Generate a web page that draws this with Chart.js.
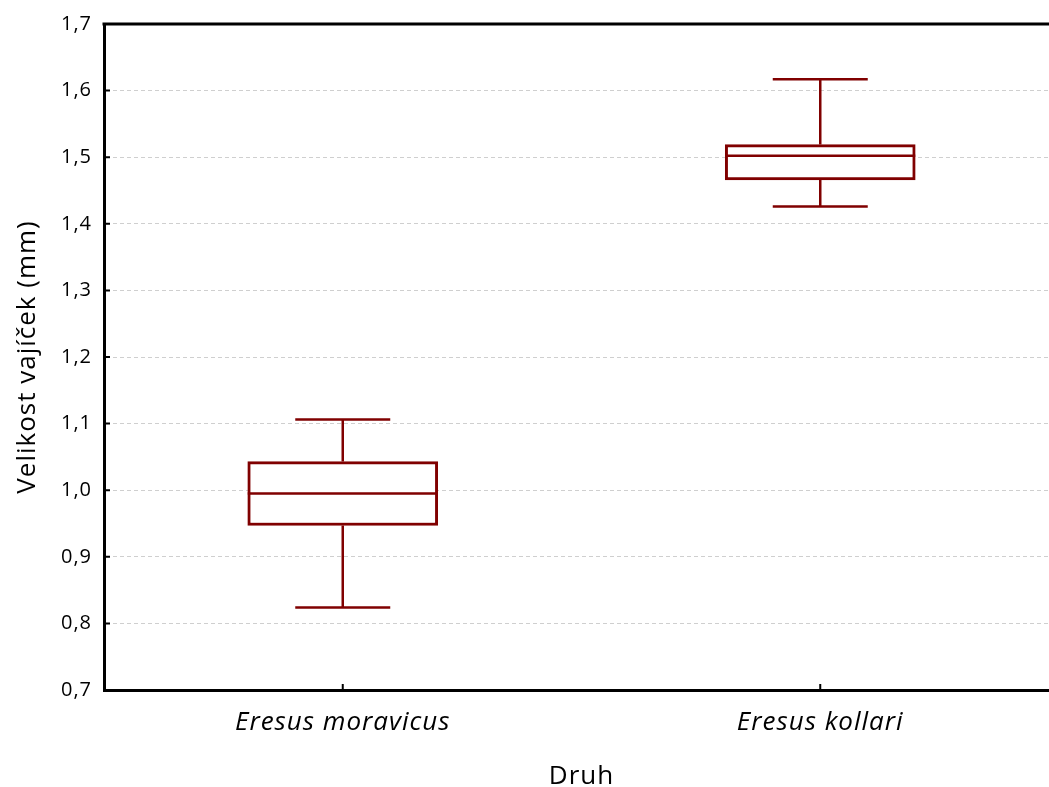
<!DOCTYPE html>
<html>
<head>
<meta charset="utf-8">
<script src="https://cdn.jsdelivr.net/npm/chart.js@4/dist/chart.umd.min.js"></script>
<style>
  html, body { margin: 0; padding: 0; background: #fff; overflow: hidden; }
  #wrap { width: 1059px; height: 787px; }
</style>
</head>
<body>
<div id="wrap"><canvas id="boxChart" width="1059" height="787"></canvas></div>
<script>
/* Egg size by species: box (Q1–Q3), median line, whiskers min–max */

const species = ['Eresus moravicus', 'Eresus kollari'];
const mins    = [0.824, 1.426];
const q1s     = [0.947, 1.466];
const medians = [0.995, 1.502];
const q3s     = [1.043, 1.519];
const maxs    = [1.106, 1.617];
const yTicks  = [0.7, 0.8, 0.9, 1.0, 1.1, 1.2, 1.3, 1.4, 1.5, 1.6, 1.7];

const RED = '#800000';
const FONT = '"Open Sans", sans-serif';

// slightly looser text, like the original statistics package output
const spacing = {
  id: 'spacing',
  beforeDraw(chart) { chart.ctx.letterSpacing = '1px'; },
};

// whiskers, caps, median, top frame line and inward tick marks
const boxParts = {
  id: 'boxParts',
  afterDatasetsDraw(chart) {
    const { ctx, chartArea, scales: { x, y } } = chart;
    const bars = chart.getDatasetMeta(0).data;
    ctx.save();
    ctx.strokeStyle = RED;
    ctx.lineWidth = 2.5;
    species.forEach((s, i) => {
      const cx = x.getPixelForValue(i);
      const half = bars[i].width / 2;
      const cap = half / 2;
      const pMin = y.getPixelForValue(mins[i]);
      const pMax = y.getPixelForValue(maxs[i]);
      const pQ1 = y.getPixelForValue(q1s[i]);
      const pQ3 = y.getPixelForValue(q3s[i]);
      const pMed = y.getPixelForValue(medians[i]);
      ctx.beginPath();
      ctx.moveTo(cx, pQ3); ctx.lineTo(cx, pMax);
      ctx.moveTo(cx - cap, pMax); ctx.lineTo(cx + cap, pMax);
      ctx.moveTo(cx, pQ1); ctx.lineTo(cx, pMin);
      ctx.moveTo(cx - cap, pMin); ctx.lineTo(cx + cap, pMin);
      ctx.moveTo(cx - half, pMed); ctx.lineTo(cx + half, pMed);
      ctx.stroke();
    });

    ctx.strokeStyle = '#000';
    ctx.lineWidth = 3;
    ctx.beginPath();
    ctx.moveTo(chartArea.left - 1.5, chartArea.top);
    ctx.lineTo(chartArea.right, chartArea.top);
    ctx.stroke();

    ctx.lineWidth = 2;
    ctx.beginPath();
    yTicks.forEach((v) => {
      const py = y.getPixelForValue(v);
      ctx.moveTo(chartArea.left, py); ctx.lineTo(chartArea.left + 6, py);
    });
    species.forEach((s, i) => {
      const px = x.getPixelForValue(i);
      ctx.moveTo(px, chartArea.bottom); ctx.lineTo(px, chartArea.bottom - 6);
    });
    ctx.stroke();
    ctx.restore();
  },
};

new Chart(document.getElementById('boxChart'), {
  type: 'bar',
  data: {
    labels: species,
    datasets: [{
      data: species.map((s, i) => [q1s[i], q3s[i]]),
      backgroundColor: '#fff',
      borderColor: RED,
      borderWidth: 3,
      borderSkipped: false,
      barThickness: 190,
    }],
  },
  options: {
    responsive: false,
    animation: false,
    devicePixelRatio: 1,
    layout: { padding: { top: 23, right: 0, left: 0, bottom: 0 } },
    plugins: { legend: { display: false }, tooltip: { enabled: false } },
    scales: {
      x: {
        grid: { display: false },
        border: { color: '#000', width: 3 },
        ticks: { color: '#000', padding: 9, font: { family: FONT, size: 26, style: 'italic' } },
        title: { display: true, text: 'Druh', color: '#000', padding: { top: 18, bottom: -5 }, font: { family: FONT, size: 26 } },
        afterFit: (scale) => { scale.height = 97; },
      },
      y: {
        min: 0.7,
        max: 1.7,
        afterBuildTicks: (scale) => { scale.ticks = yTicks.map((v) => ({ value: v })); },
        grid: { color: '#cfcfcf', lineWidth: 1, drawTicks: false },
        border: { color: '#000', width: 3, dash: [4, 3] },
        ticks: {
          color: '#000', padding: 12, font: { family: FONT, size: 20 },
          callback: (v) => Number(v).toFixed(1).replace('.', ','),
        },
        title: { display: true, text: 'Velikost vajíček (mm)', color: '#000', padding: { top: 12, bottom: 0 }, font: { family: FONT, size: 26 } },
        afterFit: (scale) => { scale.width = 104; },
      },
    },
  },
  plugins: [spacing, boxParts],
});
</script>
</body>
</html>
